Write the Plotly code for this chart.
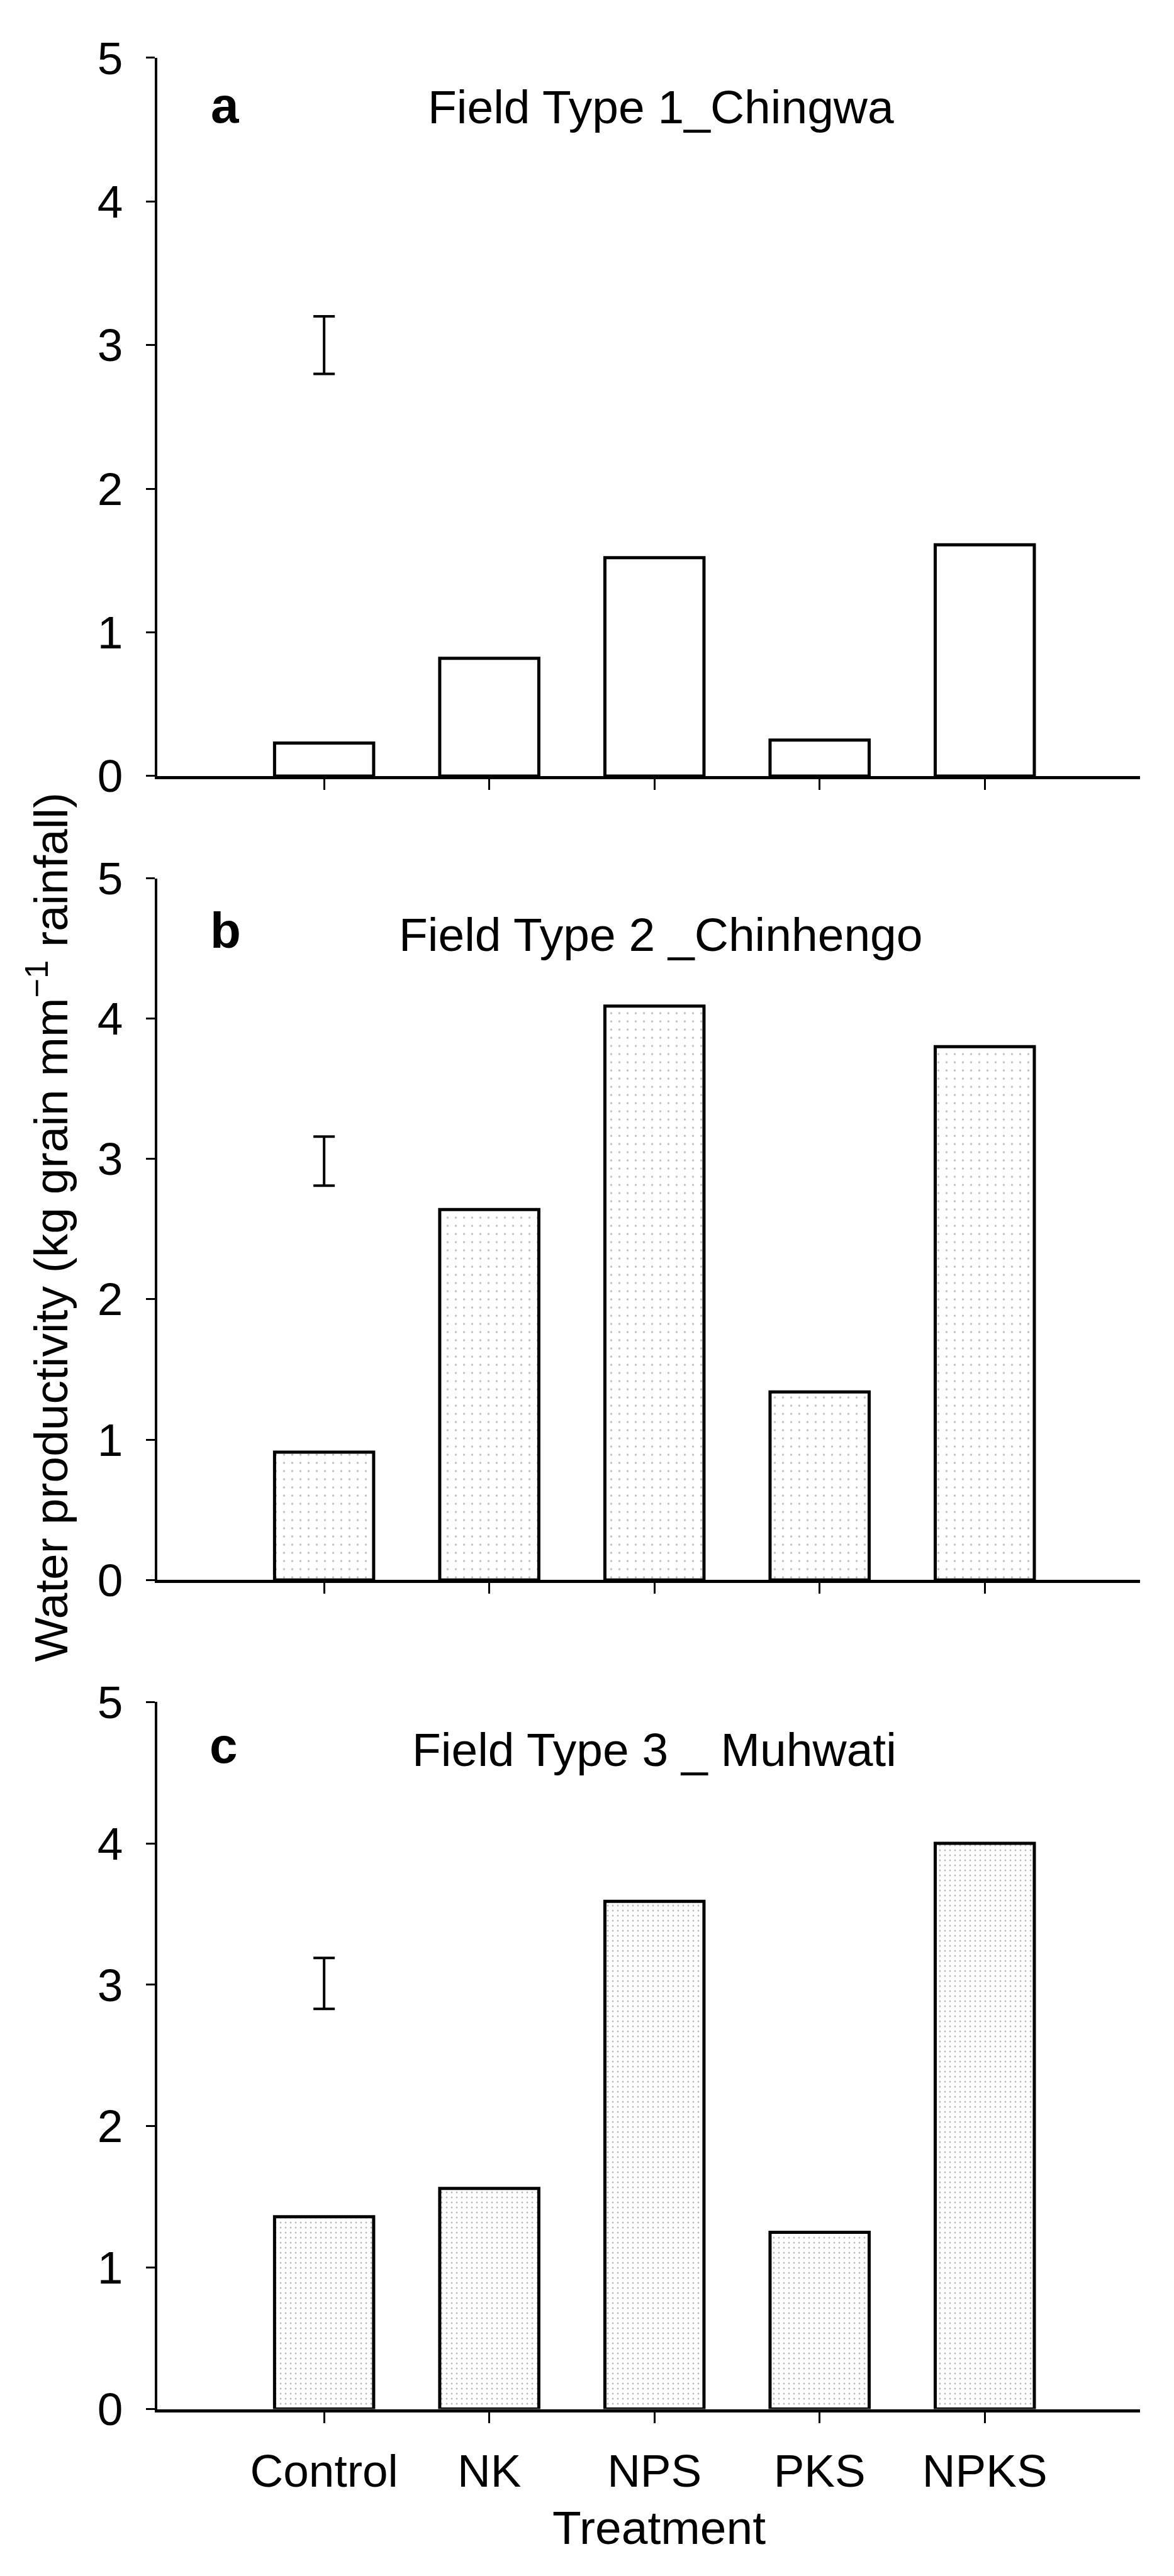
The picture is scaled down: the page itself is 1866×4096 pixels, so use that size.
import plotly.graph_objects as go

# ---------------- data ----------------
categories = ["Control", "NK", "NPS", "PKS", "NPKS"]
wp_chingwa = [0.23, 0.82, 1.52, 0.25, 1.61]
wp_chinhengo = [0.91, 2.64, 4.09, 1.34, 3.80]
wp_muhwati = [1.36, 1.56, 3.59, 1.25, 4.00]
panel_letters = ["a", "b", "c"]
panel_titles = ["Field Type 1_Chingwa", "Field Type 2 _Chinhengo", "Field Type 3 _ Muhwati"]
err_centre = [3.00, 2.985, 3.01]
err_half = [0.20, 0.175, 0.18]
y_ticks = [0, 1, 2, 3, 4, 5]
x_title = "Treatment"
y_title = "Water productivity (kg grain mm<sup>−1</sup> rainfall)"

# ---------------- layout geometry (pixels in output) ----------------
W, H = 1866, 4096
FONT = "Liberation Sans, Arial, Helvetica, sans-serif"
x_left, x_right = 250, 1812
panel_px = [(53, 1218), (1384, 2522), (2720, 3867)]
letter_pos = [(357, 130), (358, 1469), (355, 2791)]
title_pos = [(1050, 133), (1050, 1475), (1040, 2797)]

def fx(p):
    return p / W

def fy(p):
    return 1 - p / H

series = [wp_chingwa, wp_chinhengo, wp_muhwati]
patterns = [
    dict(shape="", fillmode="overlay"),
    dict(shape=".", size=13, solidity=0.05, fgcolor="#808080", fillmode="overlay"),
    dict(shape=".", size=8, solidity=0.10, fgcolor="#6a6a6a", fillmode="overlay"),
]

fig = go.Figure()
layout = dict(
    width=W, height=H, autosize=False,
    margin=dict(l=0, r=0, t=0, b=0),
    paper_bgcolor="white", plot_bgcolor="white",
    showlegend=False,
    font=dict(family=FONT, color="black", size=73),
    bargap=0.4,
)

annotations = []
for i in range(3):
    sfx = "" if i == 0 else str(i + 1)
    xa, ya = "x" + sfx, "y" + sfx
    fig.add_trace(go.Bar(
        x=categories, y=series[i], width=0.6,
        xaxis=xa, yaxis=ya,
        marker=dict(color="white", line=dict(color="black", width=5),
                    pattern=patterns[i]),
        hoverinfo="x+y",
    ))
    fig.add_trace(go.Scatter(
        x=[categories[0]], y=[err_centre[i]], mode="markers",
        xaxis=xa, yaxis=ya,
        marker=dict(size=1, color="rgba(0,0,0,0)"),
        error_y=dict(type="data", array=[err_half[i]], visible=True,
                     color="black", thickness=4, width=17),
    ))
    top, bot = panel_px[i]
    layout["xaxis" + sfx] = dict(
        domain=[fx(x_left), fx(x_right)], anchor=ya,
        type="category", categoryorder="array", categoryarray=categories,
        range=[-1.01, 4.94],
        showline=True, linecolor="black", linewidth=5,
        ticks="outside", ticklen=17, tickwidth=3, tickcolor="black",
        showticklabels=(i == 2), ticklabelstandoff=14,
        tickfont=dict(size=73, family=FONT),
        showgrid=False, zeroline=False, fixedrange=True,
    )
    layout["yaxis" + sfx] = dict(
        domain=[fy(bot), fy(top)], anchor=xa,
        range=[0, 5], tickvals=y_ticks,
        showline=True, linecolor="black", linewidth=4,
        ticks="outside", ticklen=14, tickwidth=3, tickcolor="black",
        ticklabelstandoff=22,
        tickfont=dict(size=73, family=FONT),
        showgrid=False, zeroline=False, fixedrange=True,
    )
    lx, ly = letter_pos[i]
    annotations.append(dict(
        text="<b>" + panel_letters[i] + "</b>", x=fx(lx), y=fy(ly),
        xref="paper", yref="paper", xanchor="center", yanchor="middle",
        showarrow=False, font=dict(size=80, family=FONT, color="black"),
    ))
    tx, ty = title_pos[i]
    annotations.append(dict(
        text=panel_titles[i], x=fx(tx), y=fy(ty),
        xref="paper", yref="paper", xanchor="center", yanchor="middle",
        showarrow=False, font=dict(size=75, family=FONT, color="black"),
    ))

annotations.append(dict(
    text=y_title, x=fx(76), y=fy(1950), xref="paper", yref="paper",
    xanchor="center", yanchor="middle", textangle=-90, showarrow=False,
    font=dict(size=75, family=FONT, color="black"),
))
annotations.append(dict(
    text=x_title, x=fx(1047), y=fy(4059), xref="paper", yref="paper",
    xanchor="center", yanchor="middle", showarrow=False,
    font=dict(size=75, family=FONT, color="black"),
))
layout["annotations"] = annotations
fig.update_layout(**layout)

fig.write_html("out.html", config={"displayModeBar": False, "staticPlot": True},
               post_script="document.body.style.margin='0';document.body.style.overflow='hidden';")
